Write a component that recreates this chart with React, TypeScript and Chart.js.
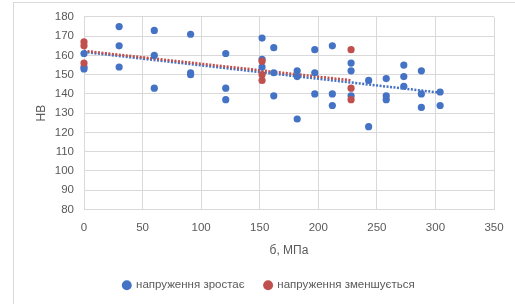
import React, { useEffect, useRef } from "react";
import { Chart, registerables } from "chart.js";

Chart.register(...registerables);

const seriesNames = ["напруження зростає", "напруження зменшується"];
const xTitle = "б, МПа";
const yTitle = "НВ";

const blueX = [0, 0, 0, 30, 30, 30, 60, 60, 60, 91, 91, 91, 121, 121, 121, 152, 152, 152, 162, 162, 162, 182, 182, 182, 197, 197, 197, 212, 212, 212, 228, 228, 228, 243, 243, 258, 258, 258, 273, 273, 273, 288, 288, 288, 304, 304];
const blueY = [161, 154, 153, 175, 165, 154, 173, 160, 143, 171, 151, 150, 161, 143, 137, 169, 158, 154, 164, 151, 139, 152, 149, 127, 163, 151, 140, 165, 140, 134, 156, 152, 139, 147, 123, 148, 139, 137, 155, 149, 144, 152, 140, 133, 141, 134];

const redX = [0, 0, 0, 152, 152, 152, 228, 228, 228];
const redY = [167, 165, 156, 157, 150, 147, 163, 143, 137];

const blueColor = "#4472c4";
const redColor = "#c0504d";

function pts(xs: number[], ys: number[]) {
  return xs.map((x, i) => ({ x, y: ys[i] }));
}

function trend(xs: number[], ys: number[]) {
  const n = xs.length;
  const mx = xs.reduce((a, b) => a + b, 0) / n;
  const my = ys.reduce((a, b) => a + b, 0) / n;
  let sxy = 0, sxx = 0;
  for (let i = 0; i < n; i++) {
    sxy += (xs[i] - mx) * (ys[i] - my);
    sxx += (xs[i] - mx) * (xs[i] - mx);
  }
  const b = sxy / sxx;
  const a = my - b * mx;
  const x0 = Math.min(...xs);
  const x1 = Math.max(...xs);
  return [{ x: x0, y: a + b * x0 }, { x: x1, y: a + b * x1 }];
}

const legendShift = {
  id: "legendShift",
  afterLayout(chart: any) {
    const lg = chart.legend;
    if (!lg) return;
    lg.left += 7;
    lg.right += 7;
    lg.top -= 3;
    lg.bottom -= 3;
  },
};

export default function App() {
  const ref = useRef<HTMLCanvasElement>(null);
  useEffect(() => {
    document.body.style.margin = "0";
    const font = { family: "'Liberation Sans', Arial, sans-serif", size: 11.5 };
    const chart = new Chart(ref.current!, {
      type: "scatter",
      plugins: [legendShift],
      data: {
        datasets: [
          { label: seriesNames[0], data: pts(blueX, blueY), backgroundColor: blueColor, borderColor: blueColor, pointRadius: 3.6, pointBorderWidth: 0, order: 2, clip: false } as any,
          { label: seriesNames[1], data: pts(redX, redY), backgroundColor: redColor, borderColor: redColor, pointRadius: 3.6, pointBorderWidth: 0, order: 1, clip: false } as any,
          { label: "trend1", data: trend(blueX, blueY), type: "line", showLine: true, borderColor: blueColor, borderWidth: 2.5, borderDash: [2, 1.5], pointRadius: 0, fill: false, order: 4 } as any,
          { label: "trend2", data: trend(redX, redY), type: "line", showLine: true, borderColor: redColor, borderWidth: 2.5, borderDash: [2, 1.5], pointRadius: 0, fill: false, order: 3 } as any,
        ],
      },
      options: {
        animation: false,
        responsive: false,
        maintainAspectRatio: false,
        layout: { padding: { left: 30, top: 15, right: 21, bottom: 0 } },
        plugins: {
          tooltip: { enabled: false },
          legend: {
            position: "bottom",
            labels: {
              usePointStyle: true,
              pointStyle: "circle",
              boxWidth: 7,
              boxHeight: 7,
              padding: 20,
              color: "#595959",
              font,
              filter: (item: any) => item.datasetIndex < 2,
              sort: (a: any, b: any) => a.datasetIndex - b.datasetIndex,
            },
          },
        },
        scales: {
          x: {
            type: "linear",
            min: 0,
            max: 350,
            ticks: { stepSize: 50, color: "#595959", font, padding: 11 },
            grid: { color: "#d9d9d9", drawTicks: false },
            border: { color: "#d9d9d9" },
            title: { display: true, text: xTitle, color: "#595959", font: { ...font, size: 12 }, padding: { top: 6, bottom: 5 } },
            afterFit: (s: any) => { s.height = 53; },
          },
          y: {
            type: "linear",
            min: 80,
            max: 180,
            ticks: { stepSize: 10, color: "#595959", font, padding: 10 },
            grid: { color: "#d9d9d9", drawTicks: false },
            border: { color: "#d9d9d9" },
            title: { display: true, text: yTitle, color: "#595959", font: { ...font, size: 12 }, padding: { top: 4, bottom: 0 } },
            afterFit: (s: any) => { s.width = 54; },
          },
        },
      },
    });
    return () => chart.destroy();
  }, []);
  return (
    <div style={{ position: "absolute", left: 0, top: 0, width: 515, height: 304, background: "#fff" }}>
      <div style={{ position: "absolute", left: 13, top: 2, right: 0, bottom: 0, borderLeft: "1px solid #d9d9d9", borderTop: "1px solid #d9d9d9" }} />
      <canvas ref={ref} width={515} height={304} style={{ position: "absolute", left: 0, top: 0 }} />
    </div>
  );
}
